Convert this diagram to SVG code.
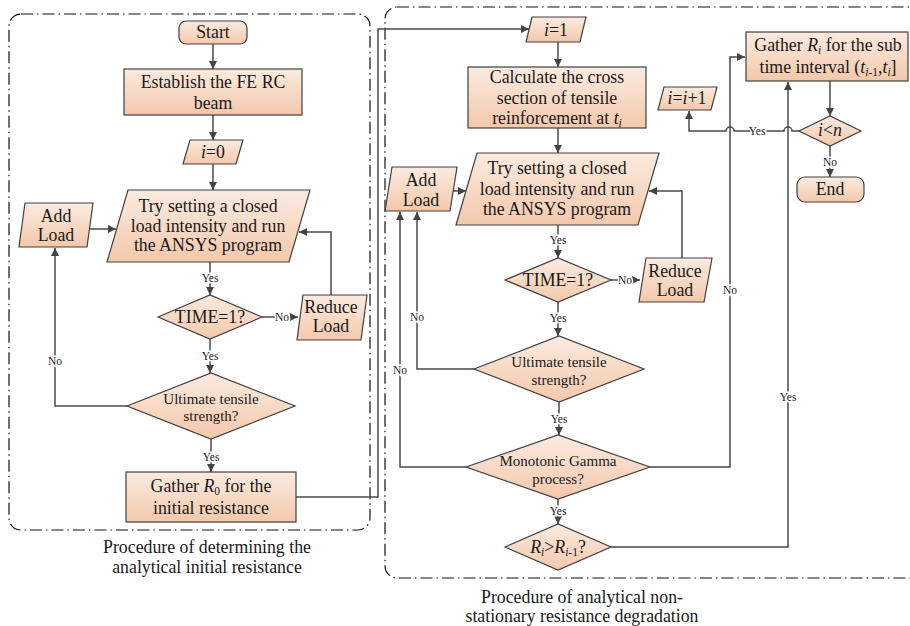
<svg xmlns="http://www.w3.org/2000/svg" width="910" height="626" viewBox="0 0 910 626">
<defs>
<linearGradient id="g" x1="0" y1="0" x2="0" y2="1">
<stop offset="0" stop-color="#fbebe0"/>
<stop offset="1" stop-color="#f3c8ab"/>
</linearGradient>
<marker id="ah" viewBox="0 0 10 10" refX="10" refY="5" markerWidth="8" markerHeight="8" markerUnits="userSpaceOnUse" orient="auto">
<path d="M0,0 L10,5 L0,10 z" fill="#444"/>
</marker>
<style>
.n{fill:url(#g);stroke:#404040;stroke-width:1.2}
.t{font-family:"Liberation Serif","Times New Roman",serif;font-size:17.8px;fill:#1a1a1a;text-anchor:middle}
.s{font-size:15px}
.c{fill:none;stroke:#4a4a4a;stroke-width:1.5}
.a{marker-end:url(#ah)}
.l{font-family:"Liberation Serif","Times New Roman",serif;font-size:11.5px;fill:#222;text-anchor:middle;stroke:#fff;stroke-width:3;paint-order:stroke}
.b{fill:none;stroke:#111;stroke-width:1.2;stroke-dasharray:12 4 1.5 4}
.cap{font-family:"Liberation Serif","Times New Roman",serif;font-size:17.8px;fill:#1a1a1a;text-anchor:middle}
.i{font-style:italic}
</style>
</defs>

<g id="frames">
<rect class="b" x="9" y="14" width="361" height="516" rx="12"/>
<rect class="b" x="385" y="7" width="545" height="571" rx="12"/>
<text class="cap" x="207" y="553">Procedure of determining the</text>
<text class="cap" x="207" y="573">analytical initial resistance</text>
<text class="cap" x="582" y="603">Procedure of analytical non-</text>
<text class="cap" x="582" y="622">stationary resistance degradation</text>
</g>

<g id="connectors">
<path class="c a" d="M213,44 V69"/>
<path class="c a" d="M213,115 V140"/>
<path class="c a" d="M213,164 V190"/>
<path class="c a" d="M210,262 V295"/>
<path class="c a" d="M262,317 H298"/>
<path class="c a" d="M331,295 V232 H299"/>
<path class="c a" d="M210,339 V373"/>
<path class="c a" d="M127,406 H55 V248"/>
<path class="c a" d="M90,229 H116"/>
<path class="c a" d="M211,439 V472"/>
<path class="c a" d="M296,497 H378 V29 H529"/>
<path class="c a" d="M558,42 V67"/>
<path class="c a" d="M558,128 V153"/>
<path class="c a" d="M451,191 H466"/>
<path class="c a" d="M558,225 V258"/>
<path class="c a" d="M611,280 H640"/>
<path class="c a" d="M682,258 V191 H649"/>
<path class="c a" d="M558,302 V336"/>
<path class="c a" d="M474,369 H417 V212"/>
<path class="c a" d="M559,402 V435"/>
<path class="c a" d="M466,467 H400 V212"/>
<path class="c a" d="M650,467 H730 V57 H745"/>
<path class="c a" d="M558,499 V524"/>
<path class="c a" d="M611,547 H788 V82"/>
<path class="c a" d="M830,81 V116"/>
<path class="c a" d="M799,131 H792 A4,4 0 0 0 784,131 H734 A4,4 0 0 0 726,131 H689 V111"/>
<path class="c a" d="M830,146 V177"/>
<text class="l" x="210" y="282">Yes</text>
<text class="l" x="282" y="321">No</text>
<text class="l" x="210" y="360">Yes</text>
<text class="l" x="55" y="365">No</text>
<text class="l" x="211" y="461">Yes</text>
<text class="l" x="558" y="244">Yes</text>
<text class="l" x="625" y="284">No</text>
<text class="l" x="558" y="322">Yes</text>
<text class="l" x="417" y="321">No</text>
<text class="l" x="559" y="423">Yes</text>
<text class="l" x="400" y="374">No</text>
<text class="l" x="730" y="294">No</text>
<text class="l" x="558" y="515">Yes</text>
<text class="l" x="788" y="401">Yes</text>
<text class="l" x="757" y="135">Yes</text>
<text class="l" x="830" y="166">No</text>
</g>

<g id="start">
<rect class="n" x="179" y="21" width="68" height="23" rx="7"/>
<text class="t" x="213" y="38">Start</text>
</g>
<g id="establish">
<rect class="n" x="124" y="69" width="178" height="46"/>
<text class="t" x="213" y="88">Establish the FE RC</text>
<text class="t" x="213" y="109">beam</text>
</g>
<g id="i0">
<polygon class="n" points="190,140 243,140 236,164 183,164"/>
<text class="t" x="213" y="158"><tspan class="i">i</tspan>=0</text>
</g>
<g id="try1">
<polygon class="n" points="128,190 310,190 289,262 107,262"/>
<text class="t" x="208" y="212">Try setting a closed</text>
<text class="t" x="208" y="232">load intensity and run</text>
<text class="t" x="208" y="251">the ANSYS program</text>
</g>
<g id="addload1">
<polygon class="n" points="25,203 93,203 87,247 19,247"/>
<text class="t" x="56" y="222">Add</text>
<text class="t" x="56" y="241">Load</text>
</g>
<g id="time1">
<polygon class="n" points="158,317 210,295 262,317 210,339"/>
<text class="t" x="210" y="323">TIME=1?</text>
</g>
<g id="reduce1">
<polygon class="n" points="303,295 367,295 361,340 297,340"/>
<text class="t" x="331" y="313">Reduce</text>
<text class="t" x="331" y="332">Load</text>
</g>
<g id="ult1">
<polygon class="n" points="127,406 211,373 295,406 211,439"/>
<text class="t s" x="211" y="404">Ultimate tensile</text>
<text class="t s" x="211" y="421">strength?</text>
</g>
<g id="gather0">
<rect class="n" x="126" y="472" width="170" height="50"/>
<text class="t" x="211" y="492">Gather <tspan class="i">R</tspan><tspan font-size="11.5" dy="3">0</tspan><tspan dy="-3"> for the</tspan></text>
<text class="t" x="211" y="514">initial resistance</text>
</g>

<g id="i1">
<polygon class="n" points="532,17 586,17 580,42 526,42"/>
<text class="t" x="556" y="36"><tspan class="i">i</tspan>=1</text>
</g>
<g id="calc">
<rect class="n" x="468" y="67" width="178" height="61"/>
<text class="t" x="557" y="83">Calculate the cross</text>
<text class="t" x="557" y="104">section of tensile</text>
<text class="t" x="557" y="124">reinforcement at <tspan class="i">t</tspan><tspan class="i" font-size="11.5" dy="3">i</tspan></text>
</g>
<g id="try2">
<polygon class="n" points="477,153 659,153 638,225 456,225"/>
<text class="t" x="557" y="174">Try setting a closed</text>
<text class="t" x="557" y="195">load intensity and run</text>
<text class="t" x="557" y="215">the ANSYS program</text>
</g>
<g id="addload2">
<polygon class="n" points="392,167 457,167 450,211 385,211"/>
<text class="t" x="421" y="186">Add</text>
<text class="t" x="421" y="206">Load</text>
</g>
<g id="time2">
<polygon class="n" points="505,280 558,258 611,280 558,302"/>
<text class="t" x="558" y="286">TIME=1?</text>
</g>
<g id="reduce2">
<polygon class="n" points="646,258 712,258 704,302 639,302"/>
<text class="t" x="675" y="277">Reduce</text>
<text class="t" x="675" y="296">Load</text>
</g>
<g id="ult2">
<polygon class="n" points="474,369 559,336 644,369 559,402"/>
<text class="t s" x="559" y="367">Ultimate tensile</text>
<text class="t s" x="559" y="385">strength?</text>
</g>
<g id="mono">
<polygon class="n" points="466,467 558,435 650,467 558,499"/>
<text class="t s" x="558" y="466">Monotonic Gamma</text>
<text class="t s" x="558" y="484">process?</text>
</g>
<g id="rcmp">
<polygon class="n" points="505,547 558,524 611,547 558,570"/>
<text class="t" x="558" y="553"><tspan class="i">R</tspan><tspan class="i" font-size="11.5" dy="3">i</tspan><tspan dy="-3">&gt;</tspan><tspan class="i">R</tspan><tspan font-size="11.5" dy="3"><tspan class="i">i</tspan>-1</tspan><tspan dy="-3">?</tspan></text>
</g>
<g id="iinc">
<polygon class="n" points="664,87 717,87 711,110 658,110"/>
<text class="t" x="687" y="104"><tspan class="i">i</tspan>=<tspan class="i">i</tspan>+1</text>
</g>
<g id="gatherR">
<rect class="n" x="746" y="32" width="162" height="49"/>
<text class="t" x="828" y="51">Gather <tspan class="i">R</tspan><tspan class="i" font-size="11.5" dy="3">i</tspan><tspan dy="-3"> for the sub</tspan></text>
<text class="t" x="828" y="73">time interval (<tspan class="i">t</tspan><tspan font-size="11.5" dy="3"><tspan class="i">i</tspan>-1</tspan><tspan dy="-3">,</tspan><tspan class="i">t</tspan><tspan class="i" font-size="11.5" dy="3">i</tspan><tspan dy="-3">]</tspan></text>
</g>
<g id="ilt">
<polygon class="n" points="799,131 830,116 861,131 830,146"/>
<text class="t" x="830" y="136"><tspan class="i">i</tspan>&lt;<tspan class="i">n</tspan></text>
</g>
<g id="end">
<rect class="n" x="797" y="177" width="67" height="25" rx="8"/>
<text class="t" x="830" y="195">End</text>
</g>
</svg>
